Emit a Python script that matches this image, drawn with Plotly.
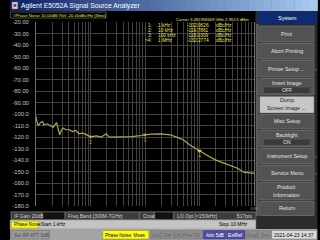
import plotly.graph_objects as go

# ---------------- data ----------------
freq_hz = [1000, 1012, 1098, 1210, 1328, 1384, 1582, 1817, 2076, 2375, 2544, 2727,
           2909, 3116, 3564, 4091, 4673, 5345, 6138, 7015, 8024, 9220, 10000, 10550,
           12920, 15820, 19370, 22200, 27150, 38160, 57000, 86000, 100000, 128000,
           194000, 290000, 380000, 500000, 657000, 1000000, 1400000, 1940000,
           3300000, 5000000, 6500000, 9400000, 10000000]
noise_dbc = [-102.1, -104.4, -110.2, -107.4, -106.5, -109.4, -108.5, -110.2, -111.4,
             -107.4, -112.2, -118.1, -114.3, -112.2, -113.7, -113.7, -115.2, -114.3,
             -117.2, -116.6, -117.5, -119.0, -119.8, -119.6, -119.0, -120.1, -117.2,
             -120.1, -120.1, -120.1, -119.6, -118.7, -118.0, -117.5, -117.2, -118.1,
             -120.1, -122.4, -126.8, -132.3, -136.0, -139.9, -144.2, -147.1, -150.6,
             -151.5, -151.6]

marker_ids = ["1", "2", "3", "4"]
marker_freq = [1000, 10000, 100000, 1000000]
marker_freq_label = ["1 kHz", "10 kHz", "100 kHz", "1 MHz"]
marker_val = [-102.0626, -119.7861, -118.0309, -132.2774]

y_ticks = [-20, -30, -40, -50, -60, -70, -80, -90, -100, -110, -120, -130, -140,
           -150, -160, -170, -180]
y_tick_labels = ["-20.00", "-30.00", "-40.00", "-50.00", "-60.00", "-70.00", "-80.00",
                 "-90.00", "-100.0", "-110.0", "-120.0", "-130.0", "-140.0", "-150.0",
                 "-160.0", "-170.0", "-180.0"]

FONT = "Liberation Sans, Arial, sans-serif"
TRACE = "#b4ac2c"

# plot area in pixels
L, T, W, H = 27, 22, 227, 184


def px(x):
    return (x - L) / W


def py(y):
    return (T + H - y) / H


shapes = []
annos = []


def rect(x0, y0, x1, y1, fill, line=None, lw=0):
    shapes.append(dict(type="rect", xref="paper", yref="paper",
                       x0=px(x0), x1=px(x1), y0=py(y1), y1=py(y0),
                       fillcolor=fill, line=dict(color=line or fill, width=lw),
                       layer="above"))


def text(x, y, s, size=5.5, color="#ffffff", xa="left"):
    annos.append(dict(xref="paper", yref="paper", x=px(x), y=py(y), text=s,
                      showarrow=False, xanchor=xa, yanchor="middle", borderpad=0,
                      font=dict(size=size, color=color, family=FONT)))


fig = go.Figure()

# main trace
fig.add_trace(go.Scatter(x=freq_hz, y=noise_dbc, mode="lines",
                         line=dict(color=TRACE, width=1.2), hoverinfo="skip"))

# markers on the trace
fig.add_trace(go.Scatter(x=marker_freq, y=marker_val, mode="markers+text",
                         marker=dict(symbol="triangle-down", size=4,
                                     color=[TRACE, TRACE, TRACE, "#e0e020"]),
                         text=marker_ids, textposition="bottom center",
                         textfont=dict(size=4.5, color=TRACE, family=FONT),
                         cliponaxis=False, hoverinfo="skip"))

# marker position triangles under the graticule
fig.add_trace(go.Scatter(x=marker_freq, y=[-181.8] * len(marker_freq), mode="markers",
                         marker=dict(symbol="triangle-up", size=5,
                                     color=["#a89a38", "#a89a38", "#a89a38", "#ffff00"]),
                         cliponaxis=False, hoverinfo="skip"))

# reference level pointer
fig.add_trace(go.Scatter(x=[1000], y=[-20], mode="markers",
                         marker=dict(symbol="triangle-right", size=5, color="#e8e000"),
                         cliponaxis=False, hoverinfo="skip"))

# ---------------- chrome ----------------
# title bar gradient
n = 40
c0 = (10, 36, 106)
c1 = (166, 202, 240)
for i in range(n):
    t = i / (n - 1)
    col = "rgb(%d,%d,%d)" % tuple(int(a + (b - a) * t) for a, b in zip(c0, c1))
    rect(320 * i / n, 0, 320 * (i + 1) / n + 0.5, 11, col)
rect(2, 2, 8, 9, "#d8d8d8", "#606060", 0.5)
rect(3.5, 4, 6.5, 7, "#c03030")
text(10, 5.8, "Agilent E5052A Signal Source Analyzer", 6.8, "#ffffff")

# header of the trace
rect(0.5, 12, 100, 18, "#000000", "#7a7a7a", 0.6)
text(2, 15.2, "#Phase Noise 10.00dB/ Ref -20.00dBc/Hz [Smo]", 4.3, "#e8e800")

# marker readout
YEL = "#e8e830"
text(172, 19.5, "Carrier 3.481958669 GHz", 4.2, YEL)
text(250, 19.5, "2.9513 dBm", 4.4, YEL, "right")
row_y = [25.3, 30.4, 35.4, 40.4]
for i in range(4):
    lbl = (">" if i == 3 else "") + marker_ids[i] + ":"
    text(148.5, row_y[i], lbl, 4.8, YEL, "right")
    text(152.5, row_y[i], marker_freq_label[i], 4.8, YEL)
    text(183, row_y[i], "%.4f" % marker_val[i], 4.8, YEL)
    text(213, row_y[i], "dBc/Hz", 4.8, YEL)

text(249, 208.5, "10M", 4, "#8a8a8a")

# right soft-key panel
rect(255.5, 11, 320, 229, "#2b2b2b")
rect(256, 24, 259, 216, "#5c5c5c")
rect(258, 11.5, 320, 24, "#0f2a70")
text(289, 17.8, "System", 5.5, "#ffffff", "center")

BTN = "#525252"
BTN_LINE = "#808080"
buttons = [
    (26, 42, ["Print"], [33.8]),
    (43.5, 59, ["Abort Printing"], [51]),
    (60.5, 77, ["Printer Setup ..."], [68.5]),
    (78.5, 95, ["Invert Image"], [82.5]),
    (96.5, 113, ["Dump", "Screen Image ..."], [100.2, 107.6]),
    (114.5, 129, ["Misc Setup"], [121]),
    (130.5, 147, ["Backlight"], [135]),
    (148.5, 164, ["Instrument Setup"], [156]),
    (165.5, 180.5, ["Service Menu"], [173]),
    (182, 200, ["Product", "Information"], [187, 195.2]),
    (201.5, 215.5, ["Return"], [208]),
]
for y0, y1, labels, ys in buttons:
    dump = labels[0] == "Dump"
    rect(260, y0, 316.5, y1, "#c6c6c6" if dump else BTN, BTN_LINE, 0.6)
    for s, yy in zip(labels, ys):
        text(288.2, yy, s, 5.3, "#1a1a1a" if dump else "#e6e6e6", "center")
    if labels[0] in ("Printer Setup ...", "Instrument Setup", "Service Menu"):
        text(318.5, (y0 + y1) / 2, "›", 5, "#9a9a9a", "center")
rect(264, 87, 312.5, 93.5, "#3a3a3a", "#6a6a6a", 0.5)
text(288.2, 90.3, "OFF", 5, "#e6e6e6", "center")
rect(264, 139, 312.5, 145.5, "#3a3a3a", "#6a6a6a", 0.5)
text(288.2, 142.3, "ON", 5, "#e6e6e6", "center")

# row A (channel status)
rect(0, 211, 256, 220, "#262626")
GRY = "#d4d4d4"
rect(1.5, 212, 33, 219.5, "#3c3c3c", "#8a8a8a", 0.5)
text(3, 215.8, "IF Gain 20dB", 5.0, GRY)
rect(33.5, 212, 57, 219.5, "#111111", "#8a8a8a", 0.5)
rect(57.5, 212, 134.5, 219.5, "#3c3c3c", "#8a8a8a", 0.5)
text(59.5, 215.8, "Freq Band [300M-7GHz]", 5.0, GRY)
rect(135, 212, 150, 219.5, "#3c3c3c", "#8a8a8a", 0.5)
text(137, 215.8, "Cmat", 5.0, GRY)
rect(150.5, 212, 170, 219.5, "#111111", "#8a8a8a", 0.5)
rect(170.5, 212, 236.5, 219.5, "#3c3c3c", "#8a8a8a", 0.5)
text(173, 215.8, "LO Opt [&lt;150kHz]", 5.0, GRY)
rect(237, 212, 256, 219.5, "#3c3c3c", "#8a8a8a", 0.5)
text(254, 215.8, "517pts", 5.0, GRY, "right")

# row B (sweep)
rect(0, 220, 256, 229, "#c4c4c4", "#8a8a8a", 0.5)
rect(1.5, 221.2, 29.5, 228, "#ffff00", "#9a9a20", 0.5)
text(2.6, 224.8, "Phase Noise", 4.7, "#000000")
text(31.5, 224.8, "Start 1 kHz", 4.9, "#000000")
text(249, 224.8, "Stop 10 MHz", 4.9, "#000000", "right")

# row C (status bar)
rect(0, 229, 320, 240, "#a4a4a4")
rect(1, 230.5, 41, 239, "#9a9a9a", "#6a6a6a", 0.5)
text(3, 235, "Set RF ATT 0dB", 4.9, "#4a4a4a")
rect(96.5, 230.5, 144.5, 239, "#ffff00", "#8a8a20", 0.5)
text(98, 235, "Phase Noise: Meas", 4.6, "#000000")
small = [(146, 157, "Cor"), (158, 170, "Del"), (171, 178, "Ob"), (179, 200.5, "Pow OV"),
         (245.5, 257.5, "Stop"), (258.5, 271.5, "Svc")]
for x0, x1, s in small:
    rect(x0, 230.5, x1, 239, "#8e8e8e", "#6a6a6a", 0.5)
    text((x0 + x1) / 2, 235, s, 4.7, "#5e5e5e", "center")
rect(201.5, 230.5, 224.5, 239, "#4c4ca8", "#303070", 0.5)
text(213, 235, "Attn 5dB", 4.7, "#ffffff", "center")
rect(225.5, 230.5, 244.5, 239, "#4c4ca8", "#303070", 0.5)
text(235, 235, "ExtRef", 4.7, "#ffffff", "center")
rect(272.5, 230.5, 319.5, 239, "#dcdcdc", "#6a6a6a", 0.5)
text(296, 235, "2021-04-23 14:37", 5.0, "#000000", "center")

GRID = "#424242"
fig.update_layout(
    width=320, height=240,
    margin=dict(l=L, r=320 - L - W, t=T, b=240 - T - H, pad=0),
    paper_bgcolor="#000000", plot_bgcolor="#000000",
    showlegend=False,
    shapes=shapes, annotations=annos,
    xaxis=dict(type="log", range=[3, 7], dtick="D1", showticklabels=False,
               showgrid=True, gridcolor=GRID, gridwidth=1, zeroline=False,
               showline=False, fixedrange=True),
    yaxis=dict(range=[-180, -20], tickvals=y_ticks, ticktext=y_tick_labels,
               showgrid=True, gridcolor=GRID, gridwidth=1, zeroline=False,
               showline=True, linecolor="#707070", linewidth=1, mirror=True,
               ticks="", ticklabelstandoff=5,
               tickfont=dict(size=5.8, color="#c4c4c4", family=FONT),
               fixedrange=True),
)

fig.write_html("out.html", config={"displayModeBar": False})
